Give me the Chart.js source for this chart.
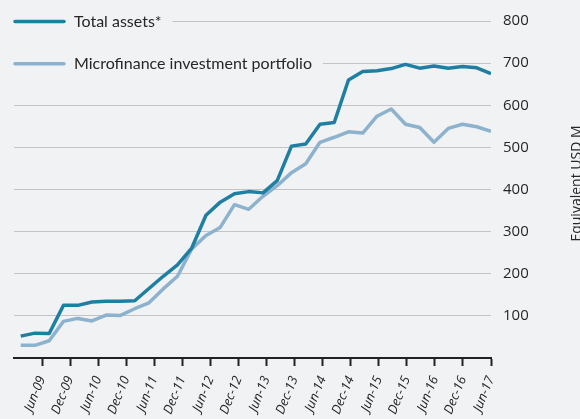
<!DOCTYPE html>
<html>
<head>
<meta charset="utf-8">
<script src="https://cdn.jsdelivr.net/npm/chart.js@4.4.1/dist/chart.umd.min.js"></script>
<style>
    html, body { margin: 0; padding: 0; background: #f1f2f4; overflow: hidden; }
    #wrap { width: 580px; height: 419px; position: relative; }
</style>
</head>
<body>
<div id="wrap"><canvas id="assetChart"></canvas></div>
<script>
// quarterly figures, Mar-09 .. Jun-17
let quarters = ["Mar-09", "Jun-09", "Sep-09", "Dec-09", "Mar-10", "Jun-10", "Sep-10", "Dec-10",
    "Mar-11", "Jun-11", "Sep-11", "Dec-11", "Mar-12", "Jun-12", "Sep-12", "Dec-12",
    "Mar-13", "Jun-13", "Sep-13", "Dec-13", "Mar-14", "Jun-14", "Sep-14", "Dec-14",
    "Mar-15", "Jun-15", "Sep-15", "Dec-15", "Mar-16", "Jun-16", "Sep-16", "Dec-16",
    "Mar-17", "Jun-17"];
let totalAssets = [52, 59, 58, 125, 125, 133, 135, 135, 136, 165, 194, 221, 261, 339, 370, 390,
    395, 392, 421, 503, 508, 555, 559, 660, 680, 682, 687, 697, 688, 693, 688, 692, 689, 675];
let portfolio = [30, 30, 41, 87, 94, 88, 102, 101, 117, 131, 164, 194, 259, 291, 310, 364,
    353, 384, 409, 440, 461, 512, 524, 537, 534, 574, 591, 555, 547, 512, 545, 555, 549, 538];
let tickLabels = ["Jun-09", "Dec-09", "Jun-10", "Dec-10", "Jun-11", "Dec-11", "Jun-12", "Dec-12",
    "Jun-13", "Dec-13", "Jun-14", "Dec-14", "Jun-15", "Dec-15", "Jun-16", "Dec-16", "Jun-17"];
let yTicks = [100, 200, 300, 400, 500, 600, 700, 800];
let seriesNames = ["Total assets*", "Microfinance investment portfolio"];
let axisTitle = "Equivalent USD M";

let bg = "#f1f2f4";
let darkBlue = "#1f7fa2";
let lightBlue = "#8db2cd";
let textColor = "#262626";

function toPoints(values) {
    return values.map((v, i) => ({ x: i, y: v, q: quarters[i] }));
}

// legend sits inside the plot, on top of the 800 and 700 gridlines
let insideLegend = {
    id: "insideLegend",
    beforeDatasetsDraw(chart) {
        let ctx = chart.ctx;
        let yScale = chart.scales.y;
        let left = chart.chartArea.left;
        let rows = [
            { text: seriesNames[0], color: darkBlue, y: yScale.getPixelForValue(800) },
            { text: seriesNames[1], color: lightBlue, y: yScale.getPixelForValue(700) }
        ];
        ctx.save();
        ctx.font = "16px Lato";
        rows.forEach(r => {
            let w = ctx.measureText(r.text).width;
            ctx.fillStyle = bg;
            ctx.fillRect(left - 1, r.y - 4, 60 + w + 12, 8);
            ctx.strokeStyle = r.color;
            ctx.lineWidth = 3.5;
            ctx.lineCap = "round";
            ctx.beginPath();
            ctx.moveTo(left + 1, r.y + 0.5);
            ctx.lineTo(left + 50, r.y + 0.5);
            ctx.stroke();
            ctx.fillStyle = textColor;
            ctx.textBaseline = "middle";
            ctx.fillText(r.text, left + 60, r.y + 1);
        });
        ctx.restore();
    }
};

let rightTitle = {
    id: "rightTitle",
    afterDraw(chart) {
        let ctx = chart.ctx;
        let a = chart.chartArea;
        ctx.save();
        ctx.translate(577, (a.top + a.bottom) / 2 - 6);
        ctx.rotate(-Math.PI / 2);
        ctx.font = "14px 'Open Sans'";
        ctx.fillStyle = textColor;
        ctx.textAlign = "center";
        ctx.textBaseline = "middle";
        ctx.fillText(axisTitle, 0, 0);
        ctx.restore();
    }
};

let ctx = document.getElementById("assetChart").getContext("2d");
let assetChart = new Chart(ctx, {
    type: "line",
    data: {
        datasets: [{
            label: seriesNames[0],
            data: toPoints(totalAssets),
            borderColor: darkBlue,
            borderWidth: 3.5,
            xAxisID: "x",
            order: 1
        }, {
            label: seriesNames[1],
            data: toPoints(portfolio),
            borderColor: lightBlue,
            borderWidth: 3.5,
            xAxisID: "x",
            order: 2
        }]
    },
    options: {
        responsive: true,
        maintainAspectRatio: false,
        animation: false,
        layout: { padding: { left: 14, top: 15, right: 0, bottom: 0 } },
        elements: {
            point: { radius: 0 },
            line: { tension: 0, borderJoinStyle: "round", fill: false }
        },
        plugins: {
            legend: { display: false },
            tooltip: { enabled: false }
        },
        scales: {
            x: {
                type: "linear",
                display: false,
                min: -0.47,
                max: 33
            },
            xt: {
                type: "linear",
                position: "bottom",
                min: 0,
                max: 17,
                afterBuildTicks: function (scale) {
                    scale.ticks = tickLabels.map((t, i) => ({ value: i + 1 }));
                },
                afterFit: function (scale) {
                    scale.height = 61;
                },
                border: { display: true, color: "#222", width: 2 },
                grid: { drawOnChartArea: false, drawTicks: true, tickLength: 8, tickColor: "#222", tickWidth: 2 },
                ticks: {
                    autoSkip: false,
                    minRotation: 68,
                    maxRotation: 68,
                    padding: 8,
                    color: textColor,
                    font: { family: "'Open Sans'", size: 13, style: "italic" },
                    callback: function (value) {
                        return tickLabels[value - 1] || "";
                    }
                }
            },
            y: {
                position: "right",
                min: 0,
                max: 800,
                afterBuildTicks: function (scale) {
                    scale.ticks = [{ value: 0 }].concat(yTicks.map(v => ({ value: v })));
                },
                afterFit: function (scale) {
                    scale.width = 89;
                },
                border: { display: false },
                grid: { color: "#c4c4c4", lineWidth: 1, drawTicks: false },
                ticks: {
                    padding: 12,
                    color: textColor,
                    font: { family: "'Open Sans'", size: 15 },
                    callback: function (value) {
                        return value === 0 ? "" : value;
                    }
                }
            }
        }
    },
    plugins: [insideLegend, rightTitle]
});
</script>
</body>
</html>
